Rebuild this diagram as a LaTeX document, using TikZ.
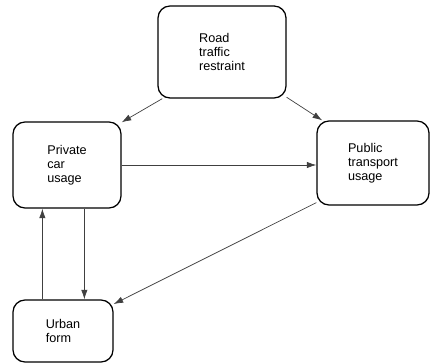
\documentclass[tikz,border=0pt]{standalone}
\usepackage{fontspec}
\setmainfont{Liberation Sans}
\usetikzlibrary{arrows.meta}

\begin{document}
\begin{tikzpicture}[
    kasten/.style={draw, line width=0.9pt, rounded corners=0.3cm, align=left,
                   font=\fontsize{9}{10}\selectfont},
    pfeil/.style={draw=black!75, line width=0.5pt, -{Latex[length=2.4mm,width=1.6mm]}}
  ]
  \useasboundingbox (0,0) rectangle (10.775,-9.075);   %Rahmen
  % Kaesten
  \node [kasten, minimum width=3.2cm, minimum height=2.3cm] (road) at (5.55,-1.3)
        {Road\\traffic\\restraint};
  \node [kasten, minimum width=2.7cm, minimum height=2.15cm] (private) at (1.675,-4.125)
        {Private\\car\\usage};
  \node [kasten, minimum width=2.8cm, minimum height=2.1cm] (public) at (9.325,-4.075)
        {Public\\transport\\usage};
  \node [kasten, minimum width=2.5cm, minimum height=1.55cm] (urban) at (1.575,-8.275)
        {Urban\\form};
  % Pfeile
  \draw [pfeil] (road.-142) -- (private.38);
  \draw [pfeil] (road.-35) -- (public.140);
  \draw [pfeil] (private.east) -- (private.east -| public.west);
  \draw [pfeil] (public.215) -- (urban.28);
  \draw [pfeil] ([xshift=0.75cm]urban.north west) -- ([xshift=0.75cm]urban.north west |- private.south);
  \draw [pfeil] ([xshift=1.8cm]private.south west) -- ([xshift=1.8cm]private.south west |- urban.north);
\end{tikzpicture}
\end{document}
